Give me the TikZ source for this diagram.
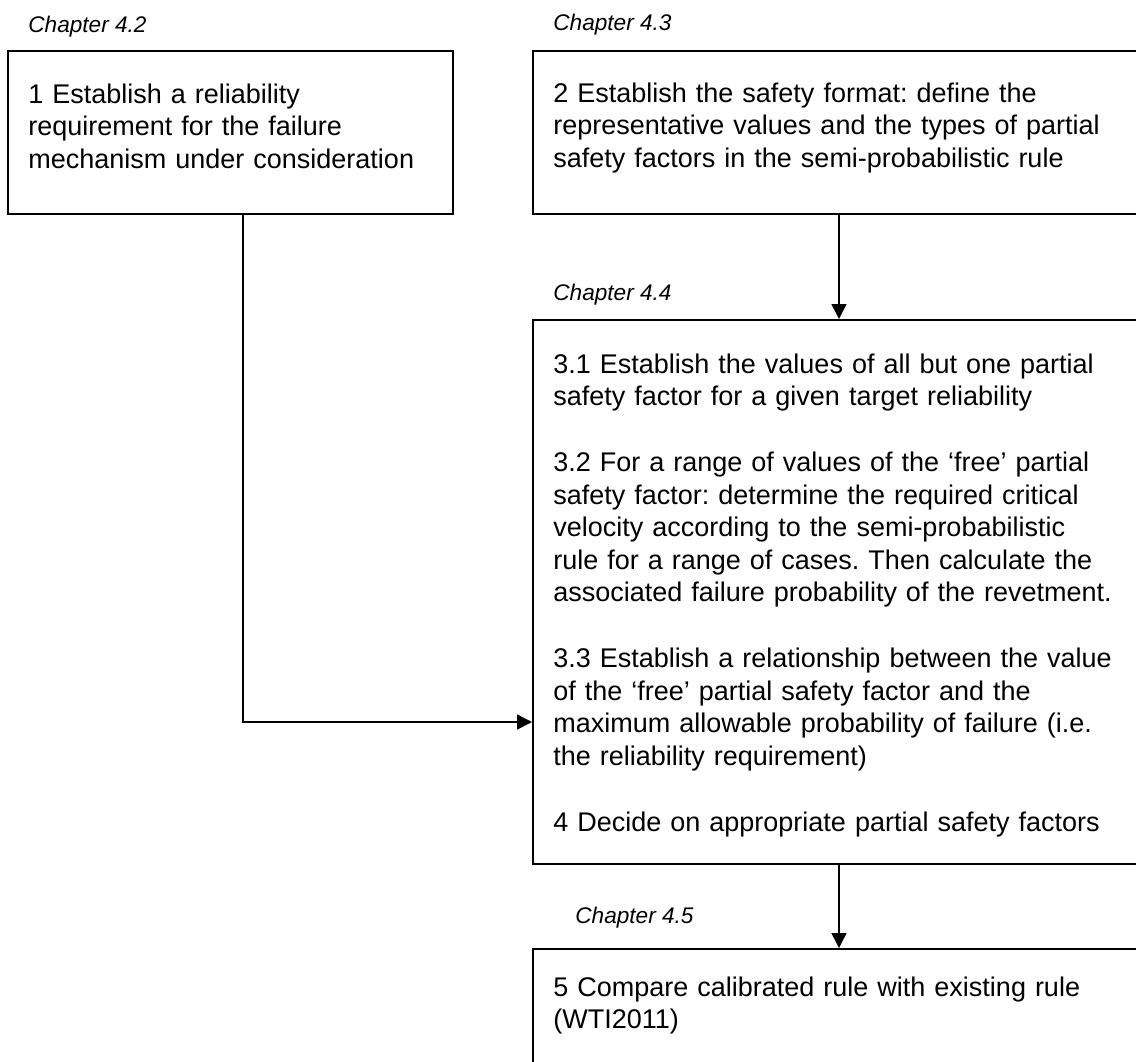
\documentclass[tikz,border=0pt]{standalone}
\usepackage{fontspec}
\setmainfont{Liberation Sans}
\usepackage{tikz}
\usetikzlibrary{arrows.meta, positioning}
\frenchspacing

\begin{document}
\begin{tikzpicture}[
        x=0.5pt, y=-0.5pt,
        stepbox/.style={rectangle, draw=black, line width=0.85pt, anchor=north west, inner sep=0pt, minimum width=309pt},
        steptext/.style={font=\fontsize{13.5}{16.25}\selectfont, text width=300pt, align=left, inner sep=0pt, anchor=base west},
        chapter/.style={font=\fontsize{11.3}{13}\selectfont\itshape, inner sep=0pt, anchor=base west},
        arr/.style={-{Triangle[length=7.5pt, width=7.5pt]}, line width=0.75pt}
    ]
        \useasboundingbox (0,0) rectangle (1136,1061);
        \clip (0,0) rectangle (1136,1061);

        % boxes
        \node[stepbox, minimum width=222.5pt, minimum height=81.5pt] (b1) at (7,50) {};
        \node[stepbox, minimum height=81.5pt] (b2) at (532,50) {};
        \node[stepbox, minimum height=272pt] (b3) at (532,319) {};
        \node[stepbox, minimum height=63.5pt] (b5) at (532,948) {};

        % chapter labels
        \node[chapter] (c42) at (28,32) {Chapter 4.2};
        \node[chapter] (c43) at (553,30) {Chapter 4.3};
        \node[chapter] (c44) at (553,300) {Chapter 4.4};
        \node[chapter] (c45) at (575,923) {Chapter 4.5};

        % step texts
        \node[steptext] (t1) at (28,103) {1 Establish a reliability\\
            requirement for the failure\\
            mechanism under consideration};
        \node[steptext] (t2) at (553,102) {2 Establish the safety format: define the\\
            representative values and the types of partial\\
            safety factors in the semi-probabilistic rule};
        \node[steptext] (t3) at (553,373) {3.1 Establish the values of all but one partial\\
            safety factor for a given target reliability\\[16.75pt]
            3.2 For a range of values of the ‘free’ partial\\
            safety factor: determine the required critical\\
            velocity according to the semi-probabilistic\\
            rule for a range of cases. Then calculate the\\
            associated failure probability of the revetment.\\[16.75pt]
            3.3 Establish a relationship between the value\\
            of the ‘free’ partial safety factor and the\\
            maximum allowable probability of failure (i.e.\\
            the reliability requirement)\\[16.75pt]
            4 Decide on appropriate partial safety factors};
        \node[steptext] (t5) at (553,996) {5 Compare calibrated rule with existing rule\\
            (WTI2011)};

        % connectors
        \coordinate (spine) at (839,0);
        \coordinate (elbow) at (243,722);
        \draw[arr] (b2.south -| spine) -- (b3.north -| spine);
        \draw[arr] (b3.south -| spine) -- (b5.north -| spine);
        \draw[arr] (b1.south -| elbow) |- (elbow -| b3.west);
    \end{tikzpicture}
\end{document}
